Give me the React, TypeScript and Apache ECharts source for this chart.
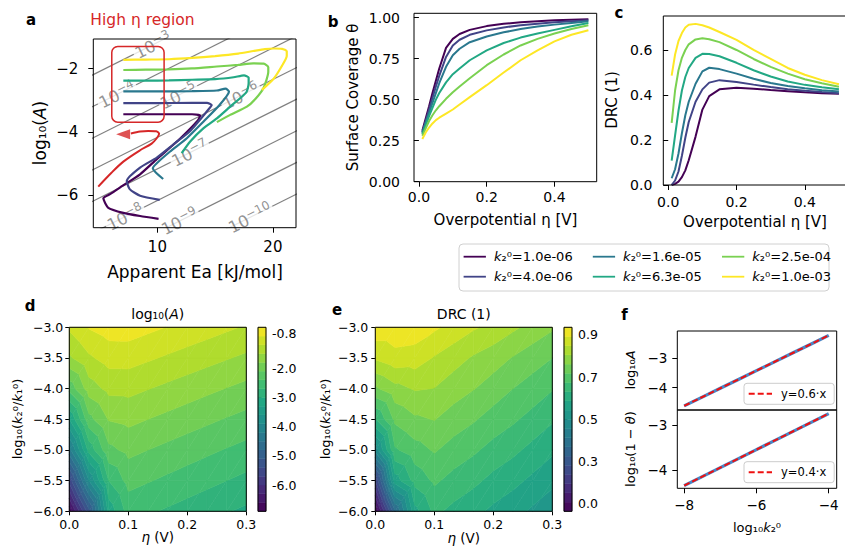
import React, { useEffect, useRef } from 'react';
import * as echarts from 'echarts';

const FONT = 'DejaVu Sans';
const RED = '#d62728';
const GRAY = '#808080';

// ---------- shared series names / colours ----------
const K2_NAMES = ['k₂⁰=1.0e-06', 'k₂⁰=4.0e-06', 'k₂⁰=1.6e-05', 'k₂⁰=6.3e-05', 'k₂⁰=2.5e-04', 'k₂⁰=1.0e-03'];
const K2_COLORS = ['#440154', '#414487', '#2a788e', '#22a884', '#7ad151', '#fde725'];

// ---------- panel a ----------
const CONTOUR_LEVELS = [-3, -4, -5, -6, -7, -8, -9, -10];
const CONTOUR_LABEL_EA = [9.6, 6.5, 11.8, 17.2, 12.8, 7.2, 11.9, 18.0];
const ISO_SLOPE = 0.183; // d log10(A) / d Ea along an iso-rate line
const TRAJ_K1 = [[7.05, -3.44], [10, -3.44], [13, -3.44], [13.7, -3.48], [13.5, -3.64], [12.0, -4.2], [9.95, -4.86], [8.5, -5.34], [6.75, -5.76], [5.9, -5.97], [5.32, -6.1], [5.75, -6.4], [7.05, -6.56], [8.5, -6.66], [10.1, -6.75]];
const TRAJ_K2 = [[7.05, -3.09], [10, -3.09], [13, -3.08], [14.3, -3.08], [14.7, -3.15], [14.4, -3.3], [12.84, -3.97], [11.4, -4.39], [9.95, -4.81], [8.5, -5.13], [7.35, -5.55], [7.6, -5.81], [8.5, -6.02], [10.2, -6.15]];
const TRAJ_K3 = [[7.05, -2.72], [10, -2.72], [13, -2.71], [15.15, -2.69], [15.9, -2.63], [16.2, -2.72], [15.4, -3.14], [14.0, -3.67], [12.55, -4.2], [11.1, -4.62], [9.95, -4.99], [9.6, -5.15], [10.5, -5.49]];
const TRAJ_K4 = [[7.05, -2.38], [9, -2.38], [11, -2.37], [13, -2.35], [15, -2.33], [16.6, -2.27], [17.5, -2.21], [17.9, -2.28], [17.9, -2.45], [17.7, -2.75], [16.3, -3.2], [15.15, -3.57], [14.0, -3.88], [12.84, -4.3], [12.1, -4.67]];
const TRAJ_K5 = [[7.05, -2.04], [9, -2.03], [11, -2.02], [13, -1.99], [15.15, -1.93], [17, -1.88], [18.3, -1.83], [19.2, -1.84], [19.6, -1.95], [19.6, -2.1], [19.2, -2.6], [18.5, -2.95], [17.75, -3.2], [16.3, -3.46], [15.15, -3.69]];
const TRAJ_K6 = [[7.05, -1.72], [9, -1.71], [11, -1.7], [13, -1.66], [15, -1.6], [17, -1.52], [18.3, -1.44], [19.3, -1.38], [20.1, -1.36], [20.8, -1.37], [21.2, -1.45], [21.2, -1.6], [20.8, -1.9], [20.1, -2.3], [19.05, -2.67]];
const TRAJECTORIES = [TRAJ_K1, TRAJ_K2, TRAJ_K3, TRAJ_K4, TRAJ_K5, TRAJ_K6];
const TRAJ_HIGH_ETA = [[4.88, -5.73], [6.0, -5.3], [7.05, -4.94], [8.5, -4.58], [9.5, -4.37], [9.94, -4.2], [10.15, -4.06], [9.9, -3.98], [9.2, -3.97], [8.5, -3.99], [7.7, -4.05]];
const ARROW_HEAD = [7.03, -4.07];
const BOX_EA = [6.05, 10.58];
const BOX_LOGA = [-3.69, -1.3];

// ---------- panels b, c ----------
const ETA = [0.01, 0.02, 0.03, 0.04, 0.05, 0.06, 0.08, 0.1, 0.12, 0.15, 0.2, 0.25, 0.3, 0.35, 0.4, 0.45, 0.5];
const THETA_K1 = [0.31, 0.385, 0.46, 0.54, 0.615, 0.69, 0.815, 0.87, 0.9, 0.925, 0.948, 0.962, 0.972, 0.978, 0.983, 0.987, 0.99];
const THETA_K2 = [0.3, 0.37, 0.44, 0.51, 0.58, 0.645, 0.76, 0.83, 0.865, 0.895, 0.922, 0.94, 0.953, 0.963, 0.971, 0.977, 0.983];
const THETA_K3 = [0.3, 0.36, 0.42, 0.48, 0.54, 0.6, 0.7, 0.77, 0.81, 0.85, 0.885, 0.91, 0.93, 0.945, 0.957, 0.967, 0.977];
const THETA_K4 = [0.29, 0.345, 0.4, 0.45, 0.5, 0.54, 0.605, 0.655, 0.69, 0.74, 0.8, 0.845, 0.878, 0.903, 0.925, 0.947, 0.967];
const THETA_K5 = [0.28, 0.325, 0.37, 0.405, 0.435, 0.46, 0.505, 0.545, 0.58, 0.63, 0.71, 0.775, 0.83, 0.87, 0.903, 0.93, 0.953];
const THETA_K6 = [0.26, 0.3, 0.33, 0.355, 0.375, 0.39, 0.415, 0.44, 0.47, 0.515, 0.588, 0.665, 0.74, 0.8, 0.855, 0.895, 0.923];
const THETAS = [THETA_K1, THETA_K2, THETA_K3, THETA_K4, THETA_K5, THETA_K6];
const DRC_K1 = [0.0, 0.005, 0.015, 0.035, 0.065, 0.11, 0.215, 0.335, 0.395, 0.425, 0.432, 0.428, 0.422, 0.417, 0.412, 0.408, 0.405];
const DRC_K2 = [0.0, 0.02, 0.06, 0.13, 0.21, 0.28, 0.37, 0.425, 0.455, 0.466, 0.458, 0.446, 0.435, 0.426, 0.419, 0.413, 0.408];
const DRC_K3 = [0.03, 0.07, 0.14, 0.23, 0.31, 0.37, 0.45, 0.505, 0.521, 0.515, 0.495, 0.472, 0.453, 0.44, 0.43, 0.421, 0.415];
const DRC_K4 = [0.108, 0.22, 0.33, 0.42, 0.48, 0.52, 0.565, 0.583, 0.582, 0.572, 0.543, 0.51, 0.482, 0.46, 0.445, 0.434, 0.426];
const DRC_K5 = [0.276, 0.42, 0.51, 0.565, 0.6, 0.625, 0.647, 0.652, 0.648, 0.635, 0.6, 0.56, 0.525, 0.495, 0.47, 0.452, 0.437];
const DRC_K6 = [0.486, 0.58, 0.64, 0.675, 0.7, 0.712, 0.716, 0.71, 0.7, 0.68, 0.645, 0.6, 0.56, 0.52, 0.49, 0.466, 0.448];
const DRCS = [DRC_K1, DRC_K2, DRC_K3, DRC_K4, DRC_K5, DRC_K6];

// ---------- panels d, e (rows: ratio -6 -> -3, cols: eta) ----------
const MAP_ETA = [0, 0.0333, 0.0667, 0.1, 0.1333, 0.1667, 0.2, 0.2333, 0.2667, 0.3];
const MAP_RATIO = [-6, -5.5, -5, -4.5, -4, -3.5, -3];
const LOGA_MAP = [
  [-6.8, -5.2, -3.2, -2.58, -2.66, -2.74, -2.82, -2.9, -2.98, -3.06],
  [-5.6, -3.9, -2.7, -2.3, -2.38, -2.46, -2.54, -2.62, -2.7, -2.78],
  [-4.3, -2.9, -2.18, -2.02, -2.1, -2.18, -2.26, -2.34, -2.42, -2.5],
  [-3.3, -2.2, -1.78, -1.72, -1.8, -1.88, -1.96, -2.04, -2.12, -2.2],
  [-2.3, -1.65, -1.42, -1.41, -1.49, -1.57, -1.65, -1.73, -1.81, -1.89],
  [-1.55, -1.25, -1.08, -1.08, -1.16, -1.24, -1.32, -1.4, -1.48, -1.56],
  [-1.15, -0.88, -0.76, -0.75, -0.83, -0.91, -0.99, -1.07, -1.15, -1.23],
];
const DRC_MAP = [
  [0.0, 0.33, 0.56, 0.635, 0.61, 0.59, 0.565, 0.545, 0.52, 0.495],
  [0.19, 0.55, 0.64, 0.68, 0.655, 0.635, 0.61, 0.59, 0.565, 0.54],
  [0.45, 0.665, 0.7, 0.725, 0.7, 0.68, 0.655, 0.635, 0.61, 0.585],
  [0.62, 0.73, 0.76, 0.77, 0.745, 0.725, 0.7, 0.68, 0.655, 0.63],
  [0.76, 0.8, 0.82, 0.815, 0.79, 0.77, 0.745, 0.72, 0.7, 0.675],
  [0.87, 0.895, 0.89, 0.86, 0.835, 0.81, 0.79, 0.765, 0.74, 0.72],
  [0.945, 0.945, 0.94, 0.92, 0.895, 0.87, 0.85, 0.825, 0.8, 0.775],
];
const LOGA_CBAR_TICKS = [-6, -5, -4, -3, -2, -0.8];
const DRC_CBAR_TICKS = [0.04, 0.26, 0.48, 0.7, 0.92];

// ---------- panel f ----------
const F_LOGK2 = [-8, -7.5, -7, -6.5, -6, -5.5, -5, -4.5, -4];
const F_LOGA = [-4.62, -4.32, -4.02, -3.72, -3.42, -3.12, -2.82, -2.52, -2.22];
const F_LOG1MT = [-4.35, -4.15, -3.95, -3.75, -3.55, -3.35, -3.15, -2.95, -2.75];
const FIT_X = [-8, -4];
const FIT_LOGA = [-4.62, -2.22];
const FIT_LOG1MT = [-4.35, -2.75];

// ---------- helpers ----------
const VIRIDIS = ['#440154', '#482475', '#414487', '#355f8d', '#2a788e', '#21918c', '#22a884', '#44bf70', '#7ad151', '#bddf26', '#fde725'];
const hex = (h: string) => [1, 3, 5].map((k) => parseInt(h.slice(k, k + 2), 16));
function viridis(t: number) {
  const u = Math.max(0, Math.min(1, t)) * 10;
  const i = Math.min(9, Math.floor(u));
  const f = u - i;
  const a = hex(VIRIDIS[i]);
  const b = hex(VIRIDIS[i + 1]);
  const c = a.map((v, k) => Math.round(v + (b[k] - v) * f));
  return `rgb(${c[0]},${c[1]},${c[2]})`;
}
const makeLevels = (lo: number, step: number, n: number) => Array.from({ length: n + 1 }, (_, k) => lo + step * k);
const LOGA_LEVELS = makeLevels(-6.9, 0.3, 21);
const DRC_LEVELS = makeLevels(0, 0.048, 20);

const mfmt = (d: number) => (v: number) => (v < -1e-9 ? '−' : '') + Math.abs(v).toFixed(d);
const pfmt = (d: number) => (v: number) => v.toFixed(d);

function grid(left: number, top: number, width: number, height: number) {
  return { left, top, width, height, show: true, borderColor: '#000', borderWidth: 1, backgroundColor: 'transparent', z: 10, containLabel: false, outerBoundsMode: 'none' };
}
function axis(o: any) {
  if (!o.ticks) return { type: 'value', gridIndex: o.gridIndex, min: o.min, max: o.max, show: false };
  return {
    type: 'value', gridIndex: o.gridIndex, min: o.min, max: o.max, position: o.position,
    axisLine: { show: false },
    splitLine: { show: false },
    axisTick: { show: true, length: o.tickLen ?? 5, lineStyle: { color: '#000', width: 1 }, customValues: o.ticks },
    axisLabel: { show: true, customValues: o.ticks, formatter: o.fmt, fontSize: o.fontSize, margin: o.margin, color: '#000', fontFamily: FONT },
  };
}

function clipPoly(poly: any[], level: number, keepAbove: boolean) {
  const out: any[] = [];
  for (let n = 0; n < poly.length; n++) {
    const P = poly[n];
    const Q = poly[(n + 1) % poly.length];
    const pin = keepAbove ? P.v >= level : P.v <= level;
    const qin = keepAbove ? Q.v >= level : Q.v <= level;
    if (pin) out.push(P);
    if (pin !== qin) {
      const t = (level - P.v) / (Q.v - P.v);
      out.push({ x: P.x + t * (Q.x - P.x), y: P.y + t * (Q.y - P.y), v: level });
    }
  }
  return out;
}

function contourSeries(idx: number, xs: number[], ys: number[], vals: number[][], levels: number[]) {
  const cells: number[][] = [];
  for (let j = 0; j < ys.length - 1; j++) for (let i = 0; i < xs.length - 1; i++) cells.push([xs[i], ys[j], i, j]);
  const n = levels.length - 1;
  return {
    type: 'custom', xAxisIndex: idx, yAxisIndex: idx, data: cells, silent: true, encode: { x: 0, y: 1 },
    renderItem: (params: any, api: any) => {
      const i = api.value(2);
      const j = api.value(3);
      const pt = (ii: number, jj: number) => {
        const p = api.coord([xs[ii], ys[jj]]);
        return { x: p[0], y: p[1], v: vals[jj][ii] };
      };
      const a = pt(i, j), b = pt(i + 1, j), c = pt(i + 1, j + 1), d = pt(i, j + 1);
      const children: any[] = [];
      for (const tri of [[a, b, c], [a, c, d]]) {
        for (let k = 0; k < n; k++) {
          let poly = clipPoly(tri, levels[k], true);
          if (poly.length < 3) continue;
          poly = clipPoly(poly, levels[k + 1], false);
          if (poly.length < 3) continue;
          const col = viridis((k + 0.5) / n);
          children.push({ type: 'polygon', shape: { points: poly.map((p) => [p.x, p.y]) }, style: { fill: col, stroke: col, lineWidth: 0.6 } });
        }
      }
      return { type: 'group', children };
    },
  };
}

function colorbarSeries(idx: number, levels: number[]) {
  const n = levels.length - 1;
  return {
    type: 'custom', xAxisIndex: idx, yAxisIndex: idx, silent: true, encode: { x: 0, y: 1 },
    data: levels.slice(0, -1).map((lv, k) => [0.5, lv, k]),
    renderItem: (params: any, api: any) => {
      const k = api.value(2);
      const p0 = api.coord([0, levels[k]]);
      const p1 = api.coord([1, levels[k + 1]]);
      const col = viridis((k + 0.5) / n);
      return { type: 'rect', shape: { x: p0[0], y: p1[1], width: p1[0] - p0[0], height: p0[1] - p1[1] }, style: { fill: col, stroke: col, lineWidth: 0.5 } };
    },
  };
}

function txt(text: string, x: number, y: number, fontSize: number, o: any = {}) {
  return {
    type: 'text', x, y, rotation: o.rot || 0, silent: true, z: 20,
    style: {
      text, fontSize, fontFamily: FONT, fontWeight: o.bold ? 'bold' : 'normal', fill: o.color || '#000',
      align: 'center', verticalAlign: 'middle', textAlign: 'center', textVerticalAlign: 'middle',
      rich: { i: { fontStyle: 'italic', fontSize, fontFamily: FONT, fill: o.color || '#000' } },
    },
  };
}

const HIDDEN_SYMBOL = { color: 'transparent', borderColor: 'transparent', borderWidth: 0, opacity: 0 };

function buildOption() {
  const grids = [
    grid(93.3, 39, 202.7, 188.7), // a
    grid(414, 13.3, 182.7, 168.4), // b
    grid(663.3, 16, 184, 169), // c
    grid(69.3, 327.3, 177, 184), // d map
    grid(258, 327.3, 8, 184), // d colorbar
    grid(375.3, 327.3, 177, 184), // e map
    grid(564, 327.3, 8, 184), // e colorbar
    grid(677.3, 331, 159.4, 79), // f upper
    grid(677.3, 410, 159.4, 78.3), // f lower
  ];
  const xAxis = [
    axis({ gridIndex: 0, min: 4.45, max: 22.0, ticks: [10, 20], fmt: (v: number) => String(v), fontSize: 15, margin: 12 }),
    axis({ gridIndex: 1, min: -0.0145, max: 0.5245, ticks: [0, 0.2, 0.4], fmt: pfmt(1), fontSize: 14, margin: 8 }),
    axis({ gridIndex: 2, min: -0.0145, max: 0.5245, ticks: [0, 0.2, 0.4], fmt: pfmt(1), fontSize: 14, margin: 10 }),
    axis({ gridIndex: 3, min: 0, max: 0.3, ticks: [0, 0.1, 0.2, 0.3], fmt: pfmt(1), fontSize: 12.5, margin: 7, tickLen: 4 }),
    axis({ gridIndex: 4, min: 0, max: 1 }),
    axis({ gridIndex: 5, min: 0, max: 0.3, ticks: [0, 0.1, 0.2, 0.3], fmt: pfmt(1), fontSize: 12.5, margin: 7, tickLen: 4 }),
    axis({ gridIndex: 6, min: 0, max: 1 }),
    axis({ gridIndex: 7, min: -8.19, max: -3.78 }),
    axis({ gridIndex: 8, min: -8.19, max: -3.78, ticks: [-8, -6, -4], fmt: mfmt(0), fontSize: 13.5, margin: 10 }),
  ];
  const yAxis = [
    axis({ gridIndex: 0, min: -7.03, max: -1.06, ticks: [-6, -4, -2], fmt: mfmt(0), fontSize: 15, margin: 15 }),
    axis({ gridIndex: 1, min: 0, max: 1.026, ticks: [0, 0.25, 0.5, 0.75, 1], fmt: pfmt(2), fontSize: 14, margin: 14 }),
    axis({ gridIndex: 2, min: 0, max: 0.751, ticks: [0, 0.2, 0.4, 0.6], fmt: pfmt(1), fontSize: 14, margin: 11 }),
    axis({ gridIndex: 3, min: -6, max: -3, ticks: [-6, -5.5, -5, -4.5, -4, -3.5, -3], fmt: mfmt(1), fontSize: 12.5, margin: 6, tickLen: 4 }),
    axis({ gridIndex: 4, min: -6.9, max: -0.6, ticks: LOGA_CBAR_TICKS, fmt: pfmt(1), fontSize: 12.5, margin: 6, tickLen: 3.5, position: 'right' }),
    axis({ gridIndex: 5, min: -6, max: -3, ticks: [-6, -5.5, -5, -4.5, -4, -3.5, -3], fmt: mfmt(1), fontSize: 12.5, margin: 7, tickLen: 4 }),
    axis({ gridIndex: 6, min: 0, max: 0.96, ticks: DRC_CBAR_TICKS, fmt: pfmt(1), fontSize: 12.5, margin: 6, tickLen: 3.5, position: 'right' }),
    axis({ gridIndex: 7, min: -4.76, max: -2.07, ticks: [-4, -3], fmt: mfmt(0), fontSize: 13.5, margin: 10 }),
    axis({ gridIndex: 8, min: -4.41, max: -2.67, ticks: [-4, -3], fmt: mfmt(0), fontSize: 13.5, margin: 10 }),
  ];

  const series: any[] = [];
  // panel a: iso-rate contour lines
  CONTOUR_LEVELS.forEach((L) => {
    series.push({
      type: 'line', xAxisIndex: 0, yAxisIndex: 0, silent: true, symbol: 'none', z: 1,
      data: [[0, L], [30, L + ISO_SLOPE * 30]],
      lineStyle: { color: GRAY, width: 1.2 },
    });
  });
  series.push({
    type: 'scatter', xAxisIndex: 0, yAxisIndex: 0, silent: true, symbolSize: 0, z: 2,
    data: CONTOUR_LEVELS.map((L, i) => ({ name: String(L), value: [CONTOUR_LABEL_EA[i], L + ISO_SLOPE * CONTOUR_LABEL_EA[i]] })),
    label: {
      show: true, position: 'inside', rotate: 26.6, color: '#777777', fontFamily: FONT, backgroundColor: '#fff', padding: [0, 2],
      formatter: (p: any) => '{m|10}{s|−' + String(p.name).replace('-', '') + '}',
      rich: {
        m: { fontSize: 16.5, fontFamily: FONT, color: '#777777', verticalAlign: 'bottom' },
        s: { fontSize: 12, fontFamily: FONT, color: '#777777', verticalAlign: 'bottom', padding: [0, 0, 7, 0] },
      },
    },
  });
  TRAJECTORIES.forEach((d, i) => {
    series.push({
      type: 'line', name: K2_NAMES[i], xAxisIndex: 0, yAxisIndex: 0, data: d, symbol: 'none', smooth: 0.2, z: 3,
      lineStyle: { color: K2_COLORS[i], width: 2.2 }, itemStyle: { color: K2_COLORS[i] },
    });
  });
  series.push({
    type: 'line', name: 'high-eta', xAxisIndex: 0, yAxisIndex: 0, data: TRAJ_HIGH_ETA, symbol: 'none', smooth: 0.3, z: 3,
    lineStyle: { color: RED, width: 2 }, itemStyle: { color: RED },
  });
  series.push({
    type: 'scatter', xAxisIndex: 0, yAxisIndex: 0, data: [ARROW_HEAD], symbol: 'triangle', symbolSize: [10, 14], symbolRotate: 90, z: 4,
    itemStyle: { color: RED }, silent: true,
  });
  series.push({
    type: 'custom', xAxisIndex: 0, yAxisIndex: 0, silent: true, z: 4, encode: { x: 0, y: 1 },
    data: [[BOX_EA[0], BOX_LOGA[0], BOX_EA[1], BOX_LOGA[1]]],
    renderItem: (params: any, api: any) => {
      const p0 = api.coord([api.value(0), api.value(1)]);
      const p1 = api.coord([api.value(2), api.value(3)]);
      return { type: 'rect', shape: { x: p0[0], y: p1[1], width: p1[0] - p0[0], height: p0[1] - p1[1], r: 6 }, style: { fill: 'none', stroke: RED, lineWidth: 1.5 } };
    },
  });
  // panels b and c
  THETAS.forEach((arr, i) => {
    series.push({
      type: 'line', name: K2_NAMES[i], xAxisIndex: 1, yAxisIndex: 1, data: ETA.map((e, k) => [e, arr[k]]),
      symbol: 'none', smooth: false, lineStyle: { color: K2_COLORS[i], width: 2 }, itemStyle: { color: K2_COLORS[i] },
    });
  });
  DRCS.forEach((arr, i) => {
    series.push({
      type: 'line', name: K2_NAMES[i], xAxisIndex: 2, yAxisIndex: 2, data: ETA.map((e, k) => [e, arr[k]]),
      symbol: 'none', smooth: false, lineStyle: { color: K2_COLORS[i], width: 2 }, itemStyle: { color: K2_COLORS[i] },
    });
  });
  // panels d and e
  series.push(contourSeries(3, MAP_ETA, MAP_RATIO, LOGA_MAP, LOGA_LEVELS));
  series.push(colorbarSeries(4, LOGA_LEVELS));
  series.push(contourSeries(5, MAP_ETA, MAP_RATIO, DRC_MAP, DRC_LEVELS));
  series.push(colorbarSeries(6, DRC_LEVELS));
  // panel f
  series.push({ type: 'line', name: 'log10A data', xAxisIndex: 7, yAxisIndex: 7, data: F_LOGK2.map((x, k) => [x, F_LOGA[k]]), symbol: 'none', lineStyle: { color: '#4a86c5', width: 3.2 } });
  series.push({ type: 'line', name: 'y=0.6·x', xAxisIndex: 7, yAxisIndex: 7, data: FIT_X.map((x, k) => [x, FIT_LOGA[k]]), symbol: 'none', lineStyle: { color: '#ee1111', width: 2, type: [6, 3] }, itemStyle: { color: '#ee1111' } });
  series.push({ type: 'line', name: 'log10(1-θ) data', xAxisIndex: 8, yAxisIndex: 8, data: F_LOGK2.map((x, k) => [x, F_LOG1MT[k]]), symbol: 'none', lineStyle: { color: '#4a86c5', width: 3.2 } });
  series.push({ type: 'line', name: 'y=0.4·x', xAxisIndex: 8, yAxisIndex: 8, data: FIT_X.map((x, k) => [x, FIT_LOG1MT[k]]), symbol: 'none', lineStyle: { color: '#ee1111', width: 2, type: [6, 3] }, itemStyle: { color: '#ee1111' } });

  const fLegend = (name: string, top: number) => ({
    data: [name], left: 744, top, orient: 'horizontal', padding: [3.5, 8, 3.5, 3.7], itemWidth: 23.3, itemHeight: 14,
    borderColor: '#cccccc', borderWidth: 1, borderRadius: 3, backgroundColor: '#ffffff', selectedMode: false,
    itemStyle: HIDDEN_SYMBOL,
    textStyle: { fontSize: 11.5, fontFamily: FONT, color: '#000', padding: [0, 0, 0, 4], lineHeight: 14 },
  });

  const legend = [
    {
      data: K2_NAMES, orient: 'vertical', left: 462.7, top: 249.7, height: 40, padding: 0, itemGap: 6, itemWidth: 22.3, itemHeight: 14,
      selectedMode: false, formatter: (n: string) => n.replace('k', '{i|k}'),
      itemStyle: HIDDEN_SYMBOL,
      lineStyle: { width: 1.8 },
      textStyle: { fontSize: 13, fontFamily: FONT, color: '#000', width: 92, padding: [0, 0, 0, 3], lineHeight: 14, rich: { i: { fontStyle: 'italic', fontSize: 13, fontFamily: FONT } } },
    },
    fLegend('y=0.6·x', 383.3),
    fLegend('y=0.4·x', 461.7),
  ];

  const R = Math.PI / 2;
  const graphic = {
    elements: [
      { type: 'rect', shape: { x: 459, y: 244, width: 370, height: 47, r: 4 }, style: { fill: '#fff', stroke: '#d0d0d0', lineWidth: 1 }, silent: true, z: 0 },
      txt('a', 31, 20, 15, { bold: true }),
      txt('b', 333, 22, 15, { bold: true }),
      txt('c', 619, 12.5, 15, { bold: true }),
      txt('d', 30, 306, 15, { bold: true }),
      txt('e', 337, 310, 15, { bold: true }),
      txt('f', 624.5, 315, 15, { bold: true }),
      txt('High η region', 142.5, 20, 15.5, { color: RED }),
      txt('Apparent Ea [kJ/mol]', 195, 272, 17),
      txt('log₁₀({i|A})', 40, 133, 17, { rot: R }),
      txt('Overpotential η [V]', 505.5, 220, 15),
      txt('Surface Coverage θ', 353, 97.5, 15, { rot: R }),
      txt('Overpotential η [V]', 755, 222, 15),
      txt('DRC (1)', 612, 100, 15, { rot: R }),
      txt('log₁₀({i|A})', 157.8, 314, 14),
      txt('log₁₀({i|k}₂⁰/{i|k}₁⁰)', 17, 419, 13, { rot: R }),
      txt('{i|η} (V)', 157.8, 537, 13.5),
      txt('DRC (1)', 463.8, 314, 14),
      txt('log₁₀({i|k}₂⁰/{i|k}₁⁰)', 325, 419, 13, { rot: R }),
      txt('{i|η} (V)', 463.8, 538, 13.5),
      txt('log₁₀{i|A}', 630, 370, 13, { rot: R }),
      txt('log₁₀(1 − {i|θ})', 630, 449, 13, { rot: R }),
      txt('log₁₀{i|k}₂⁰', 757, 527, 13),
    ],
  };

  return {
    animation: false,
    backgroundColor: '#ffffff',
    textStyle: { fontFamily: FONT },
    grid: grids,
    xAxis,
    yAxis,
    legend,
    series,
    graphic,
  };
}

export default function App() {
  const ref = useRef<HTMLDivElement>(null);
  useEffect(() => {
    const chart = echarts.init(ref.current as HTMLDivElement, null, { renderer: 'svg' });
    chart.setOption(buildOption() as any);
    return () => chart.dispose();
  }, []);
  return <div ref={ref} style={{ position: 'absolute', left: 0, top: 0, width: 845, height: 551, background: '#fff' }} />;
}
